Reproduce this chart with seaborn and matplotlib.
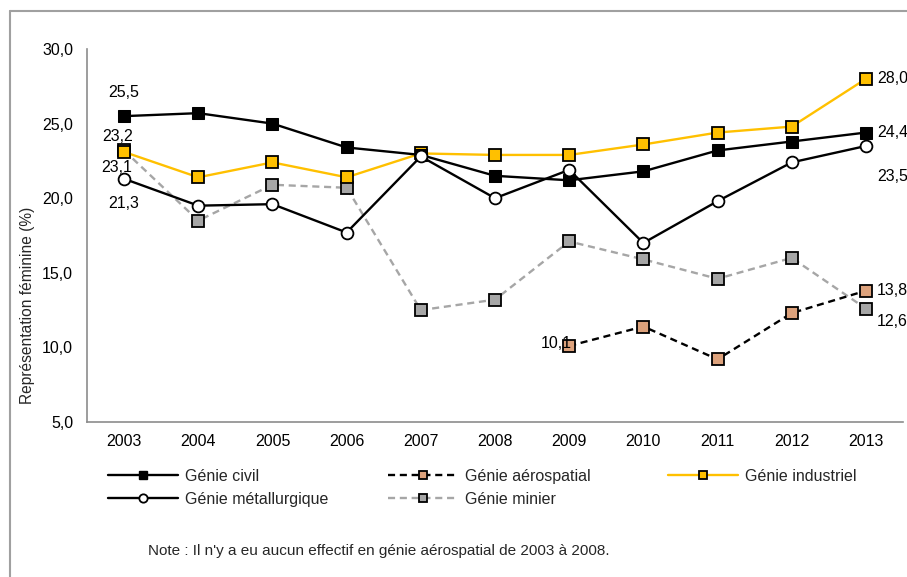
import matplotlib
matplotlib.use("Agg")
import matplotlib.pyplot as plt
import matplotlib.ticker as mticker
from matplotlib.lines import Line2D
import seaborn as sns
import numpy as np

years = [2003, 2004, 2005, 2006, 2007, 2008, 2009, 2010, 2011, 2012, 2013]
civil = [25.5, 25.7, 25.0, 23.4, 22.9, 21.5, 21.2, 21.8, 23.2, 23.8, 24.4]
aero_years = [2009, 2010, 2011, 2012, 2013]
aero = [10.1, 11.4, 9.2, 12.3, 13.8]
industriel = [23.1, 21.4, 22.4, 21.4, 23.0, 22.9, 22.9, 23.6, 24.4, 24.8, 28.0]
metal = [21.3, 19.5, 19.6, 17.7, 22.8, 20.0, 21.9, 17.0, 19.8, 22.4, 23.5]
minier = [23.2, 18.5, 20.9, 20.7, 12.5, 13.2, 17.1, 15.9, 14.6, 16.0, 12.6]
labels = ["Génie civil", "Génie aérospatial", "Génie industriel",
          "Génie métallurgique", "Génie minier"]
note = "Note : Il n'y a eu aucun effectif en génie aérospatial de 2003 à 2008."
ylabel = "Représentation féminine (%)"

sns.set_theme(style="white")
plt.rcParams['font.family'] = ['Liberation Sans', 'DejaVu Sans']

W, H = 907, 577
fig = plt.figure(figsize=(W / 100, H / 100), dpi=100)
ax = fig.add_axes([87 / W, 1 - 422 / H, (903 - 87) / W, (422 - 49) / H])

YELLOW = "#FFC000"
TAN = "#DDA27C"
GRAY = "#A6A6A6"
AXC = "#8C8C8C"
FS = 11.5

ms = 8
lw = 1.7
styles = {
    "civil": dict(color="black", linestyle="-", marker="s", markersize=ms,
                  markerfacecolor="black", markeredgecolor="black"),
    "aero": dict(color="black", linestyle=(0, (3, 2)), marker="s", markersize=ms,
                 markerfacecolor=TAN, markeredgecolor="black", markeredgewidth=1.3),
    "ind": dict(color=YELLOW, linestyle="-", marker="s", markersize=ms,
                markerfacecolor=YELLOW, markeredgecolor="black", markeredgewidth=1.3),
    "metal": dict(color="black", linestyle="-", marker="o", markersize=ms + 0.5,
                  markerfacecolor="white", markeredgecolor="black", markeredgewidth=1.3),
    "min": dict(color=GRAY, linestyle=(0, (3, 2)), marker="s", markersize=ms,
                markerfacecolor=GRAY, markeredgecolor="black", markeredgewidth=1.3),
}

sns.lineplot(x=years, y=minier, ax=ax, linewidth=lw, **styles["min"], zorder=3)
sns.lineplot(x=aero_years, y=aero, ax=ax, linewidth=lw, **styles["aero"], zorder=3)
sns.lineplot(x=years, y=industriel, ax=ax, linewidth=lw, **styles["ind"], zorder=4)
sns.lineplot(x=years, y=civil, ax=ax, linewidth=lw, **styles["civil"], zorder=5)
sns.lineplot(x=years, y=metal, ax=ax, linewidth=lw, **styles["metal"], zorder=6)

ax.set_xlim(2002.5, 2013.5)
ax.set_ylim(5, 30)
ax.set_xticks(years)
ax.set_xticklabels([str(y) for y in years])
ax.set_xticks([y + 0.5 for y in years[:-1]] + [2002.5, 2013.5], minor=True)
ax.set_yticks([5, 10, 15, 20, 25, 30])
ax.yaxis.set_major_formatter(mticker.FuncFormatter(lambda v, p: f"{v:.1f}".replace(".", ",")))

for s in ["top", "right"]:
    ax.spines[s].set_visible(False)
for s in ["left", "bottom"]:
    ax.spines[s].set_color(AXC)
    ax.spines[s].set_linewidth(1.2)

ax.tick_params(axis="x", which="major", length=0, pad=9, labelsize=FS, colors="black")
ax.tick_params(axis="x", which="minor", length=4, width=1, color=AXC, direction="out")
ax.tick_params(axis="y", which="major", length=4, width=1, color=AXC, direction="out",
               pad=6, labelsize=FS, labelcolor="black")
ax.grid(False)

fig.text(28 / W, 1 - 305 / H, ylabel, rotation=90, ha="center", va="center", fontsize=11.2)

def fmt(v):
    return f"{v:.1f}".replace(".", ",")

# data labels (offsets in points)
ann = [
    (2003, civil[0], (0, 17), "center"),
    (2003, minier[0], (-5, 10), "center"),
    (2003, industriel[0], (-5, -11), "center"),
    (2003, metal[0], (0, -18), "center"),
    (2013, industriel[-1], (8, 0), "left"),
    (2013, civil[-1], (8, 0), "left"),
    (2013, metal[-1], (8, -22), "left"),
    (2013, aero[-1], (8, 0), "left"),
    (2013, minier[-1], (8, -9), "left"),
    (2009, aero[0], (-9, 2), "center"),
]
for x, y, off, ha in ann:
    ax.annotate(fmt(y), (x, y), xytext=off, textcoords="offset points",
                ha=ha, va="center", fontsize=FS, color="black", annotation_clip=False, zorder=10)

# legend (three separate column legends)
def handle(key):
    st = dict(styles[key])
    st["markersize"] = 6
    return Line2D([], [], linewidth=lw, **st)

legend_kw = dict(frameon=False, fontsize=FS, handlelength=4.4, handletextpad=0.45,
                 labelspacing=0.5, borderaxespad=0, borderpad=0)
cols = [
    (108, [("civil", labels[0]), ("metal", labels[3])]),
    (388, [("aero", labels[1]), ("min", labels[4])]),
    (668, [("ind", labels[2])]),
]
for x0, items in cols:
    leg = fig.legend([handle(k) for k, _ in items], [l for _, l in items],
                     loc="upper left", bbox_to_anchor=(x0 / W, 1 - 469 / H), **legend_kw)

fig.text(148 / W, 1 - 551 / H, note, ha="left", va="center", fontsize=11)

# outer frame
fig.add_artist(Line2D([10 / W, 10 / W], [0, 1 - 11 / H], transform=fig.transFigure,
                      color="#A0A0A0", linewidth=1.5))
fig.add_artist(Line2D([10 / W, 1], [1 - 11 / H, 1 - 11 / H], transform=fig.transFigure,
                      color="#A0A0A0", linewidth=1.5))

fig.savefig("out.png", dpi=100, facecolor="white")
